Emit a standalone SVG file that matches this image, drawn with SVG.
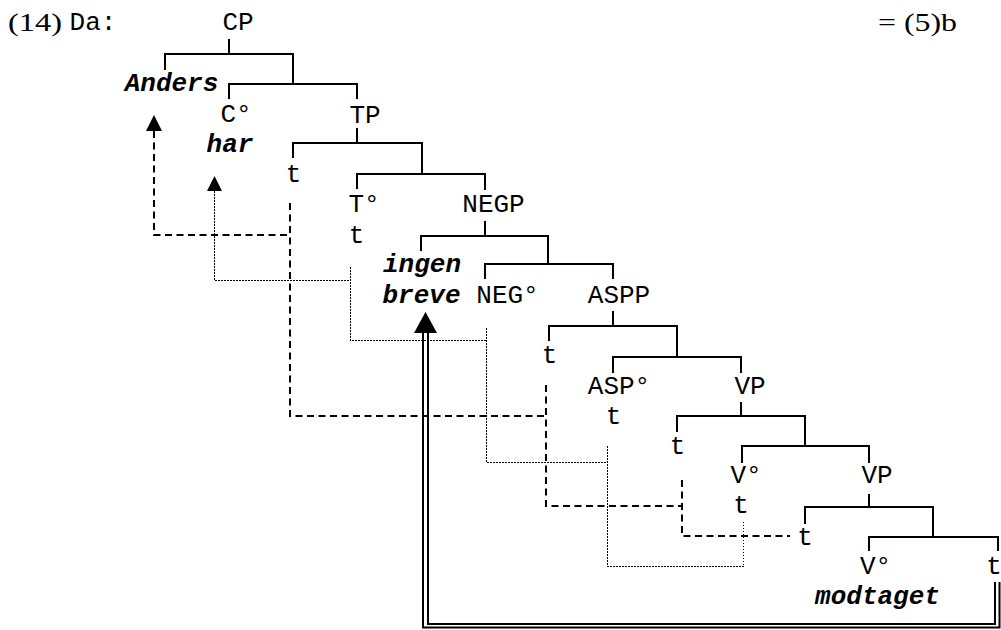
<svg xmlns="http://www.w3.org/2000/svg" width="1001" height="630" viewBox="0 0 1001 630">
<style>
.m{font-family:"Liberation Mono","Courier New",monospace;font-size:26px;fill:#000;text-anchor:middle}
.b{font-weight:bold;font-style:italic}
.s{font-family:"Liberation Serif","Times New Roman",serif;font-size:25px;fill:#000}
.tr{fill:none;stroke:#000;stroke-width:2;stroke-linecap:square}
.da{fill:none;stroke:#000;stroke-width:2;stroke-dasharray:7 4.5}
.do{fill:none;stroke:#000;stroke-width:1.5;stroke-dasharray:1.5 1.5;shape-rendering:crispEdges}
.dl{fill:none;stroke:#000;stroke-width:2}
</style>
<rect width="1001" height="630" fill="#fff"/>
<g id="connectors">
  <g id="tree">
    <path class="tr" d="M229,40V54M165,69V54H293V84M229,98V84H357V98"/>
    <path class="tr" d="M357,129V143M293,157V143H422V174M357,188V174H485V189"/>
    <path class="tr" d="M485,222V236M421,250V236H548V264M485,278V264H613V278"/>
    <path class="tr" d="M613,312V326M549,340V326H677V357M613,372V357H741V372"/>
    <path class="tr" d="M741,403V416M677,431V416H805V446M742,462V446H869V462"/>
    <path class="tr" d="M869,495V507M805,523V507H933V537M869,550V537H998V550"/>
  </g>
  <g id="dashed-movement">
    <path class="da" d="M154,131V235H290"/>
    <path class="da" d="M290,203V416H546"/>
    <path class="da" d="M546,385V506H682"/>
    <path class="da" d="M682,480V536H790"/>
    <polygon points="154,115 146,131 162,131" fill="#000"/>
  </g>
  <g id="dotted-movement">
    <path class="do" d="M214.5,191V280.5H350.5"/>
    <path class="do" d="M350.5,267V340.5H486.5"/>
    <path class="do" d="M486.5,328V462.5H607.5"/>
    <path class="do" d="M607.5,446V566.5H743.5V520"/>
    <polygon points="214.5,176 207,191 222,191" fill="#000"/>
  </g>
  <g id="double-movement">
    <path class="dl" d="M428,333V624H995V582"/>
    <path class="dl" d="M423,333V627.5H999.5V582" stroke-width="1.6"/>
    <polygon points="425.5,312 414,333 437,333" fill="#000"/>
  </g>
</g>
<g id="ex-number"><text class="s" x="8" y="31" textLength="54" lengthAdjust="spacingAndGlyphs">(14)</text></g>
<g id="da"><text class="m" x="93" y="30">Da:</text></g>
<g id="ref"><text class="s" x="878" y="31" textLength="79" lengthAdjust="spacingAndGlyphs">= (5)b</text></g>
<g id="CP"><text class="m" x="238" y="30">CP</text></g>
<g id="Anders"><text class="m b" x="171.5" y="91">Anders</text></g>
<g id="C0"><text class="m" x="236" y="122">C°</text></g>
<g id="har"><text class="m b" x="230" y="152">har</text></g>
<g id="TP"><text class="m" x="365" y="123">TP</text></g>
<g id="t-TP"><text class="m" x="293.5" y="182">t</text></g>
<g id="T0"><text class="m" x="364" y="212">T°</text></g>
<g id="t-T0"><text class="m" x="356.5" y="243">t</text></g>
<g id="NEGP"><text class="m" x="493.5" y="212">NEGP</text></g>
<g id="ingen-breve"><text class="m b" x="422" y="272">ingen</text><text class="m b" x="421.5" y="303">breve</text></g>
<g id="NEG0"><text class="m" x="507.5" y="303">NEG°</text></g>
<g id="ASPP"><text class="m" x="619" y="303">ASPP</text></g>
<g id="t-ASPP"><text class="m" x="549.5" y="363">t</text></g>
<g id="ASP0"><text class="m" x="619" y="394">ASP°</text></g>
<g id="t-ASP0"><text class="m" x="613.5" y="424">t</text></g>
<g id="VP1"><text class="m" x="750" y="394">VP</text></g>
<g id="t-VP1"><text class="m" x="677.5" y="454">t</text></g>
<g id="V0-1"><text class="m" x="746" y="483">V°</text></g>
<g id="t-V0-1"><text class="m" x="741" y="513">t</text></g>
<g id="VP2"><text class="m" x="877" y="483">VP</text></g>
<g id="t-VP2"><text class="m" x="805" y="545">t</text></g>
<g id="V0-2"><text class="m" x="875.5" y="574">V°</text></g>
<g id="modtaget"><text class="m b" x="877.5" y="604">modtaget</text></g>
<g id="t-obj"><text class="m" x="994" y="574">t</text></g>
</svg>
